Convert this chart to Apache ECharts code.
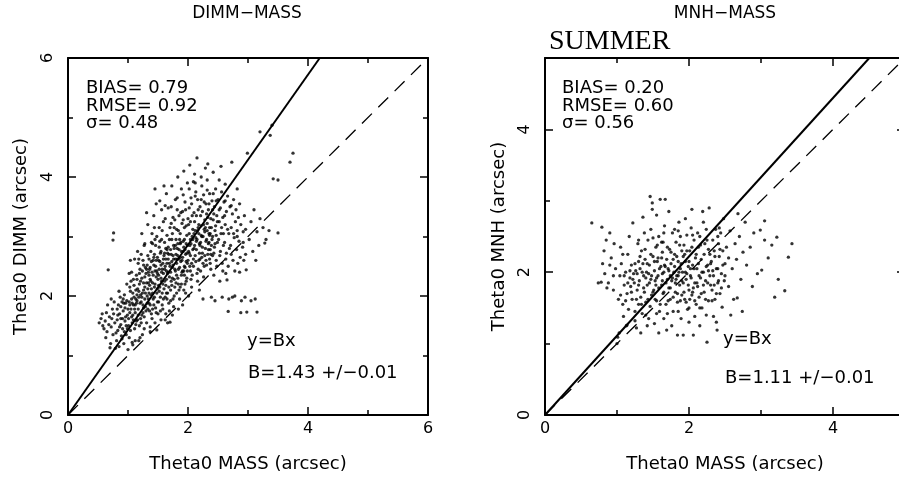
<!DOCTYPE html>
<html><head><meta charset="utf-8">
<script src="https://cdn.jsdelivr.net/npm/echarts@6/dist/echarts.min.js"></script>
<style>html,body{margin:0;padding:0;background:#fff}#c{width:899px;height:488px}</style>
</head><body><div id="c"></div><script>
// ---------- DATA ----------
const panelTitles = ['DIMM−MASS', 'MNH−MASS'];
const seasonLabel = 'SUMMER';
const xAxisNames = ['Theta0 MASS (arcsec)', 'Theta0 MASS (arcsec)'];
const yAxisNames = ['Theta0 DIMM (arcsec)', 'Theta0 MNH (arcsec)'];
const axisMax = [6, 5];
const tickInterval = 2;
const statsDimm = ['BIAS= 0.79', 'RMSE= 0.92', 'σ= 0.48'];
const statsMnh = ['BIAS= 0.20', 'RMSE= 0.60', 'σ= 0.56'];
const fitLabel = 'y=Bx';
const slopeDimm = 1.43, slopeMnh = 1.11;
const slopeTexts = ['B=1.43 +/−0.01', 'B=1.11 +/−0.01'];

const dimmPoints = [
[0.52,1.55],[0.55,1.62],[0.58,1.5],[0.57,1.7],[0.6,1.45],
[0.62,1.58],[0.64,1.72],[0.65,1.4],[0.66,1.85],[0.68,1.52],[0.67,2.44],[0.69,1.65],[0.63,1.3],
[0.71,1.2],[0.72,1.48],[0.73,1.62],[0.74,1.78],[0.75,2.94],[0.76,3.06],[0.75,1.35],[0.77,1.9],[0.78,1.55],[0.79,1.12],[0.76,1.7],[0.72,1.95],[0.7,1.13],
[0.81,1.25],[0.82,1.6],[0.83,1.42],[0.84,1.85],[0.85,1.15],[0.86,1.7],[0.87,1.98],[0.88,1.52],[0.89,1.33],[0.82,1.78],[0.85,2.08],[0.88,1.62],[0.9,1.9],
[0.91,1.45],[0.92,1.75],[0.93,1.2],[0.94,2.02],[0.95,1.58],[0.96,1.88],[0.97,1.35],[0.98,2.2],[0.99,1.68],[0.92,1.95],[0.95,1.8],[0.97,1.5],[1.0,1.1],
[1.01,1.62],[1.02,1.9],[1.03,2.15],[1.04,1.42],[1.05,1.78],[1.06,2.4],[1.07,1.55],[1.08,2.05],[1.09,1.85],[1.02,1.3],[1.05,2.25],[1.08,1.68],[1.1,1.98],[1.04,2.6],[1.07,1.22],[1.08,1.18],
[1.11,1.45],[1.12,1.72],[1.13,2.1],[1.14,2.35],[1.15,1.92],[1.16,1.6],[1.17,2.55],[1.18,1.25],[1.19,2.2],[1.12,1.85],[1.15,2.02],[1.17,1.78],[1.2,2.45],[1.13,1.52],[1.18,1.98],[1.16,2.75],[1.12,1.25],[1.2,1.3],
[1.21,1.62],[1.22,1.9],[1.23,2.3],[1.24,2.05],[1.25,2.6],[1.26,1.8],[1.27,1.45],[1.28,2.15],[1.29,2.48],[1.22,2.7],[1.24,1.35],[1.26,2.22],[1.28,1.95],[1.3,2.38],[1.23,3.05],[1.27,2.85],[1.25,1.72],
[1.31,1.55],[1.32,1.88],[1.33,2.12],[1.34,2.4],[1.35,2.62],[1.36,1.75],[1.37,2.28],[1.38,2.02],[1.39,2.9],[1.32,2.52],[1.34,1.95],[1.36,2.18],[1.38,2.75],[1.4,1.62],[1.33,3.2],[1.37,1.4],[1.35,2.35],[1.39,2.58],[1.31,3.4],[1.37,1.48],
[1.41,2.05],[1.42,2.35],[1.43,1.85],[1.44,2.7],[1.45,2.2],[1.46,2.5],[1.47,1.72],[1.48,3.0],[1.49,2.12],[1.42,2.6],[1.44,1.98],[1.46,2.85],[1.48,2.42],[1.5,2.28],[1.43,3.35],[1.47,3.55],[1.45,1.55],[1.41,2.88],[1.49,2.65],[1.44,3.15],[1.48,1.43],[1.45,3.8],
[1.51,1.9],[1.52,2.45],[1.53,2.15],[1.54,2.72],[1.55,2.3],[1.56,2.95],[1.57,2.05],[1.58,2.55],[1.59,3.25],[1.52,2.82],[1.54,1.75],[1.56,2.4],[1.58,2.2],[1.6,2.68],[1.53,3.6],[1.57,3.1],[1.55,1.6],[1.51,2.6],[1.59,1.95],[1.56,3.45],[1.6,3.85],
[1.61,2.25],[1.62,2.5],[1.63,2.8],[1.64,2.05],[1.65,3.02],[1.66,2.38],[1.67,2.62],[1.68,1.88],[1.69,2.95],[1.62,3.3],[1.64,2.42],[1.66,2.72],[1.68,2.15],[1.7,3.15],[1.63,1.7],[1.67,3.48],[1.65,2.55],[1.61,2.9],[1.69,2.32],[1.64,3.72],[1.66,1.55],[1.62,1.6],[1.7,1.56],
[1.71,2.4],[1.72,2.7],[1.73,2.18],[1.74,3.05],[1.75,2.52],[1.76,2.85],[1.77,2.0],[1.78,3.28],[1.79,2.62],[1.72,3.5],[1.74,2.3],[1.76,1.82],[1.78,2.45],[1.8,2.95],[1.73,3.85],[1.77,3.15],[1.75,2.68],[1.71,2.1],[1.79,3.62],[1.74,1.68],[1.8,2.22],
[1.81,2.55],[1.82,2.8],[1.83,2.3],[1.84,3.1],[1.85,2.62],[1.86,2.95],[1.87,2.15],[1.88,3.4],[1.89,2.75],[1.82,3.65],[1.84,2.45],[1.86,1.95],[1.88,2.58],[1.9,3.22],[1.83,4.0],[1.87,2.88],[1.85,3.35],[1.81,2.05],[1.89,3.8],[1.84,1.78],[1.9,2.4],
[1.91,2.65],[1.92,2.92],[1.93,2.42],[1.94,3.15],[1.95,2.78],[1.96,3.45],[1.97,2.25],[1.98,3.02],[1.99,2.55],[1.92,3.7],[1.94,2.5],[1.96,2.05],[1.98,2.72],[2.0,3.3],[1.93,4.1],[1.97,2.88],[1.95,3.58],[1.91,1.85],[1.99,3.9],[1.94,2.35],
[2.01,2.75],[2.02,3.05],[2.03,2.5],[2.04,3.25],[2.05,2.88],[2.06,3.55],[2.07,2.35],[2.08,3.12],[2.09,2.62],[2.02,3.8],[2.04,2.68],[2.06,2.15],[2.08,2.95],[2.1,3.4],[2.03,4.2],[2.07,3.0],[2.05,3.65],[2.01,2.0],[2.09,3.92],[2.04,2.42],[2.1,2.8],
[2.11,2.85],[2.12,3.1],[2.13,2.58],[2.14,3.35],[2.15,2.95],[2.16,3.62],[2.17,2.45],[2.18,3.2],[2.19,2.72],[2.12,3.9],[2.14,2.78],[2.16,2.25],[2.18,3.05],[2.2,3.5],[2.15,4.32],[2.17,3.15],[2.13,3.75],[2.19,2.1],[2.11,4.05],[2.2,2.62],
[2.21,2.9],[2.22,3.18],[2.23,2.65],[2.24,3.42],[2.25,3.0],[2.26,3.7],[2.27,2.5],[2.28,3.28],[2.29,2.8],[2.22,4.0],[2.24,2.72],[2.26,2.32],[2.28,3.08],[2.3,3.55],[2.23,3.85],[2.27,3.12],[2.25,1.95],[2.21,2.42],[2.29,4.15],[2.3,2.6],
[2.31,2.95],[2.32,3.22],[2.33,2.7],[2.34,3.45],[2.35,3.05],[2.36,3.72],[2.37,2.55],[2.38,3.3],[2.39,2.85],[2.32,3.95],[2.34,2.78],[2.36,3.15],[2.38,2.45],[2.4,3.6],[2.33,4.22],[2.37,3.05],[2.35,2.9],[2.31,3.38],[2.39,1.98],[2.36,2.62],
[2.41,3.0],[2.42,3.28],[2.43,2.72],[2.44,3.5],[2.45,3.1],[2.46,3.8],[2.47,2.6],[2.48,3.35],[2.49,2.9],[2.42,4.08],[2.44,2.82],[2.46,3.18],[2.48,2.5],[2.5,3.62],[2.43,2.35],[2.47,3.02],[2.45,1.92],[2.41,3.45],[2.49,3.25],
[2.51,2.95],[2.52,3.25],[2.53,2.68],[2.54,3.48],[2.55,3.05],[2.56,3.75],[2.57,2.55],[2.58,3.32],[2.59,2.85],[2.52,3.95],[2.54,2.75],[2.56,3.15],[2.58,2.42],[2.6,3.58],[2.53,2.25],[2.57,1.98],[2.55,4.18],[2.59,3.05],
[2.61,2.9],[2.62,3.2],[2.63,2.62],[2.64,3.42],[2.65,2.27],[2.66,3.68],[2.67,2.5],[2.68,3.05],[2.69,2.8],[2.62,3.88],[2.64,2.72],[2.66,3.12],[2.68,1.95],[2.7,3.5],[2.63,2.38],[2.67,1.74],[2.61,3.35],
[2.71,2.85],[2.72,3.15],[2.73,4.25],[2.74,3.38],[2.75,2.6],[2.76,3.62],[2.77,2.98],[2.78,2.42],[2.79,3.25],[2.72,2.7],[2.74,1.98],[2.76,3.05],[2.78,2.0],[2.8,3.45],
[2.81,2.78],[2.82,3.1],[2.83,2.55],[2.84,3.32],[2.85,2.92],[2.86,3.55],[2.87,2.65],[2.88,3.2],[2.89,1.92],[2.82,3.0],[2.86,2.4],[2.88,1.72],
[2.91,2.82],[2.92,3.08],[2.93,2.6],[2.94,3.35],[2.95,1.98],[2.96,3.12],[2.97,2.44],[2.98,1.73],[2.99,4.4],[2.92,2.9],[2.96,2.7],
[3.02,2.95],[3.05,3.25],[3.08,2.75],[3.1,3.45],[3.12,1.95],[3.15,1.73],[3.15,3.08],[3.18,2.85],[3.05,1.92],[3.2,3.3],[3.13,2.6],[3.2,4.76],
[3.28,2.89],[3.25,3.15],[3.3,2.95],[3.37,4.7],[3.4,4.87],[3.42,3.97],[3.5,3.95],[3.5,3.06],[3.7,4.25],[3.75,4.4],[3.35,3.1],
[1.03,1.72],[1.06,1.95],[1.09,2.28],[1.11,2.62],[1.14,1.88],[1.16,2.12],[1.19,2.38],[1.21,2.02],[1.23,1.68],[1.26,2.52],[1.29,1.82],[1.31,2.22],[1.33,2.68],[1.35,1.88],[1.37,2.48],[1.39,2.12],[1.41,1.78],[1.43,2.52],[1.45,2.95],[1.47,2.32],[1.49,1.9],[1.51,2.18],[1.53,2.92],[1.55,2.52],[1.57,1.85],[1.59,2.38],[1.61,2.72],[1.63,2.18],[1.65,1.95],[1.67,2.82],[1.69,2.55],[1.71,1.92],[1.73,2.58],[1.75,3.32],[1.77,2.28],[1.79,2.85],[1.81,3.12],[1.83,2.68],[1.85,2.1],[1.87,3.05],[1.89,2.35],[1.91,3.42],[1.93,2.82],[1.95,2.2],[1.97,3.18],[1.99,2.42],[2.01,3.2],[2.03,2.85],[2.05,2.28],[2.07,3.35],[2.09,2.5],[2.11,3.25],[2.13,2.98],[2.15,2.38],[2.17,3.45],[2.19,2.88],[2.21,3.35],[2.23,3.0],[2.25,2.55],[2.27,3.58],[2.29,3.15],[2.31,2.52],[2.33,3.32],[2.35,3.55],[2.37,2.78],[2.39,3.15],[2.41,2.68],[2.43,3.38],[2.45,2.88],[2.47,3.6],
[1.02,2.38],[1.18,2.62],[1.28,2.88],[1.4,3.05],[1.52,3.15],[1.62,3.52],[1.72,3.22],[1.82,3.45],[1.92,3.28],[2.02,3.48],[2.12,3.68],[2.22,3.62],[2.32,3.78],[2.42,3.72],[2.52,3.45],[2.62,3.6],[2.72,3.52],[2.82,3.8],
[0.8,1.38],[0.83,1.68],[0.86,1.48],[0.88,1.82],[0.9,1.28],[0.91,1.62],[0.93,1.88],[0.94,1.4],[0.96,1.65],[0.98,1.92],[0.99,1.45],[1.0,1.78],
[1.01,1.5],[1.03,1.85],[1.04,2.08],[1.06,1.65],[1.07,1.88],[1.09,1.6],[1.1,2.18],[1.11,1.78],[1.13,1.95],[1.14,1.58],[1.15,2.28],[1.17,1.68],[1.18,2.08],[1.19,1.5],[1.2,1.88],
[1.21,2.25],[1.22,1.55],[1.23,1.98],[1.24,2.42],[1.25,1.85],[1.26,2.1],[1.27,1.65],[1.28,2.32],[1.29,2.05],[1.3,1.75],[1.31,2.45],[1.32,2.0],[1.33,1.78],[1.34,2.22],[1.35,2.05],[1.36,2.45],[1.37,1.85],[1.38,2.25],[1.39,1.7],[1.4,2.4],
[1.41,2.22],[1.42,1.95],[1.43,2.65],[1.44,2.15],[1.45,2.42],[1.46,1.8],[1.47,2.6],[1.48,2.05],[1.49,2.38],[1.5,1.7],[1.51,2.35],[1.52,2.08],[1.53,2.58],[1.54,1.98],[1.55,2.75],[1.56,2.25],[1.57,2.45],[1.58,1.78],[1.59,2.62],[1.6,2.12],
[1.61,2.45],[1.62,1.98],[1.63,2.62],[1.64,2.28],[1.65,2.78],[1.66,2.05],[1.67,2.4],[1.68,2.7],[1.69,1.75],[1.7,2.5],[1.71,2.78],[1.72,2.25],[1.73,2.95],[1.74,2.48],[1.75,1.95],[1.76,2.62],[1.77,2.8],[1.78,2.15],[1.79,2.42],[1.8,2.7],
[1.81,2.35],[1.82,2.62],[1.83,2.88],[1.84,2.2],[1.85,2.78],[1.86,2.48],[1.87,2.65],[1.88,2.9],[1.89,2.2],[1.9,2.6],[1.91,2.42],[1.92,2.75],[1.93,2.1],[1.94,2.95],[1.95,2.48],[1.96,2.7],[1.97,2.58],[1.98,2.3],[1.99,2.85],[2.0,2.6],
[2.02,2.72],[2.04,2.95],[2.06,2.55],[2.08,2.78],[2.1,3.05],[2.12,2.68],[2.14,2.92],[2.16,3.1],[2.18,2.6],[2.2,2.85],[2.22,3.02],[2.24,2.82],[2.26,3.2],[2.28,2.68],[2.3,2.92],[2.32,3.1],[2.34,2.88],[2.36,3.02],[2.38,2.7],[2.4,2.95]
];

const mnhPoints = [
[0.65,2.69],[0.74,1.85],[0.79,2.63],[0.78,1.86],[0.82,2.3],[0.85,2.45],[0.88,1.85],[0.8,2.12],[0.86,1.78],[0.9,2.55],
[0.92,2.2],[0.95,1.75],[0.98,2.05],[1.0,1.0],[1.01,1.09],[1.02,1.62],[1.05,2.35],[1.04,1.95],[1.08,1.55],[1.06,2.12],[1.1,1.82],[0.96,2.4],[1.09,1.38],[1.03,1.15],
[1.12,2.0],[1.14,1.7],[1.15,2.25],[1.16,1.48],[1.18,1.92],[1.2,2.1],[1.21,1.62],[1.22,2.69],[1.24,1.85],[1.25,1.32],[1.26,2.02],[1.28,1.75],[1.29,2.4],[1.3,1.55],[1.13,1.25],[1.17,2.5],[1.23,1.98],[1.27,1.22],[1.19,1.8],[1.3,2.15],[1.14,1.26],
[1.31,1.88],[1.32,2.05],[1.33,1.65],[1.34,2.3],[1.35,1.42],[1.36,2.77],[1.37,1.95],[1.38,1.72],[1.39,2.18],[1.4,1.58],[1.41,2.0],[1.42,1.82],[1.43,2.45],[1.44,1.35],[1.45,2.1],[1.46,3.06],[1.47,1.9],[1.48,1.68],[1.49,2.97],[1.5,2.22],[1.33,1.15],[1.38,2.55],[1.44,1.98],[1.46,1.52],[1.36,2.12],[1.42,1.25],[1.49,2.88],[1.47,2.6],
[1.51,1.75],[1.52,2.02],[1.53,1.88],[1.54,2.35],[1.55,1.6],[1.56,2.15],[1.57,1.95],[1.58,2.5],[1.59,1.45],[1.6,3.02],[1.61,2.08],[1.62,1.82],[1.63,2.28],[1.64,1.7],[1.65,2.0],[1.66,2.65],[1.67,3.02],[1.68,1.55],[1.69,2.18],[1.7,1.9],[1.52,1.28],[1.55,2.8],[1.58,1.15],[1.62,2.42],[1.65,1.35],[1.69,1.19],[1.57,2.2],[1.63,1.98],[1.54,1.82],[1.66,2.1],
[1.71,2.05],[1.72,1.78],[1.73,2.32],[1.74,1.62],[1.75,2.12],[1.76,1.88],[1.77,2.55],[1.78,1.45],[1.79,2.0],[1.8,2.25],[1.81,1.72],[1.82,2.42],[1.83,1.95],[1.84,1.58],[1.85,2.15],[1.86,2.7],[1.87,1.82],[1.88,2.05],[1.89,1.35],[1.9,2.3],[1.72,2.85],[1.76,1.25],[1.8,2.6],[1.84,1.12],[1.88,2.5],[1.74,1.95],[1.78,2.18],[1.82,1.9],[1.86,2.0],[1.9,1.68],
[1.91,2.0],[1.92,1.85],[1.93,2.38],[1.94,1.62],[1.95,2.15],[1.96,1.9],[1.97,2.52],[1.98,1.48],[1.99,2.08],[2.0,1.75],[2.01,2.3],[2.02,1.95],[2.03,2.62],[2.04,1.68],[2.05,2.1],[2.06,1.12],[2.07,2.45],[2.08,1.85],[2.09,2.2],[2.1,1.55],[1.92,1.12],[1.95,2.75],[2.0,1.3],[2.04,2.88],[2.08,1.38],[1.97,1.98],[2.02,2.05],[1.94,2.25],[2.06,1.78],
[2.11,2.05],[2.12,1.8],[2.13,2.35],[2.14,1.65],[2.15,2.5],[2.16,1.92],[2.17,2.18],[2.18,1.5],[2.19,2.85],[2.2,2.0],[2.21,1.72],[2.22,2.4],[2.23,1.88],[2.24,2.6],[2.25,1.02],[2.26,2.1],[2.27,1.6],[2.28,2.9],[2.29,2.25],[2.3,1.82],[2.15,1.25],[2.2,2.7],[2.24,1.4],[2.12,2.55],[2.27,2.02],
[2.31,2.15],[2.32,1.75],[2.33,2.45],[2.34,1.95],[2.35,2.3],[2.36,1.62],[2.37,2.6],[2.38,2.05],[2.39,1.19],[2.4,1.85],[2.41,2.4],[2.42,2.22],[2.43,1.7],[2.44,2.55],[2.45,1.98],[2.46,1.51],[2.47,2.3],[2.48,2.75],[2.49,1.88],[2.5,2.12],[2.34,1.38],[2.42,2.62],[2.38,1.3],
[2.52,2.35],[2.55,1.8],[2.57,2.58],[2.6,2.05],[2.62,1.62],[2.64,2.4],[2.66,2.18],[2.67,1.64],[2.7,2.5],[2.72,1.9],[2.75,2.28],[2.78,2.7],[2.58,1.4],[2.68,2.82],[2.8,2.1],[2.55,2.2],[2.74,1.45],
[2.85,2.35],[2.9,2.55],[2.95,1.98],[2.99,2.59],[3.01,2.03],[3.05,2.45],[3.1,2.2],[3.15,2.38],[3.19,1.65],[3.22,2.49],[3.24,1.9],[3.33,1.74],[3.38,2.21],[3.43,2.4],[3.05,2.72],[2.88,1.8],
[1.15,1.85],[1.18,2.02],[1.2,1.72],[1.22,1.9],[1.25,2.12],[1.27,1.62],[1.28,1.98],[1.3,1.82],[1.32,2.22],[1.34,1.55],[1.35,2.0],[1.37,1.78],[1.39,2.32],[1.4,1.92],[1.42,2.12],[1.43,1.62],[1.45,1.85],[1.47,2.25],[1.48,1.95],[1.5,1.72],
[1.52,2.15],[1.53,1.62],[1.55,1.92],[1.56,2.38],[1.58,1.78],[1.59,2.05],[1.6,1.55],[1.62,2.2],[1.63,1.88],[1.64,2.42],[1.65,1.72],[1.67,2.08],[1.68,1.85],[1.7,2.35],[1.71,1.6],[1.72,2.02],[1.74,1.78],[1.75,2.28],[1.77,1.92],[1.78,1.65],
[1.8,2.08],[1.81,1.85],[1.83,2.22],[1.84,1.7],[1.85,1.95],[1.87,2.38],[1.88,1.6],[1.89,2.12],[1.9,1.88],[1.92,2.22],[1.93,1.72],[1.95,2.0],[1.96,1.58],[1.97,2.3],[1.99,1.82],[2.0,2.15],[2.01,1.62],[2.03,1.92],[2.04,2.35],[2.05,1.72],
[2.07,2.05],[2.08,1.6],[2.1,2.25],[2.11,1.85],[2.13,2.12],[2.14,1.95],[2.16,2.38],[2.17,1.7],[2.18,2.0],[2.2,1.82],[2.21,2.25],[2.23,1.62],[2.24,2.08],[2.26,1.85],[2.27,2.32],[2.29,1.95],[2.3,2.12],[2.32,1.6],[2.33,2.02],[2.35,1.82],
[2.36,2.22],[2.38,1.7],[2.4,2.05],[2.41,1.88],[2.43,2.32],[2.45,1.78],[2.47,2.1],[2.5,1.95],[1.25,1.45],[1.4,1.4],[1.55,1.42],[1.7,1.42],[1.85,1.45],[2.0,1.5],[2.15,1.5],[1.3,2.45],[1.5,2.48],[1.65,2.55],[1.85,2.58],[2.05,2.52],[2.25,2.45],[2.4,2.5],
[1.05,1.68],[1.08,2.25],[1.1,1.95],[1.12,1.6],[0.95,1.95],[0.9,2.1],[0.83,1.98]
];

// ---------- CHART ----------
const FONT = '"DejaVu Sans", "Liberation Sans", sans-serif';
const BLACK = '#000';

function makeAxis(gridIndex, max, position, isY, showLabel, name, nameGap) {
  const a = {
    type: 'value', gridIndex, position, min: 0, max, interval: tickInterval,
    axisLine: { show: true, onZero: false, lineStyle: { color: BLACK, width: 2 } },
    axisTick: { show: true, inside: true, length: 8, lineStyle: { color: BLACK, width: 1.5 } },
    minorTick: { show: true, splitNumber: 2, length: 5, lineStyle: { color: BLACK, width: 1.5 } },
    splitLine: { show: false },
    minorSplitLine: { show: false },
    axisLabel: { show: showLabel, color: BLACK, fontFamily: FONT, fontSize: 16, margin: isY ? 12 : 6,
                 rotate: isY ? 90 : 0, showMinLabel: true, showMaxLabel: max % tickInterval === 0 },
    silent: true
  };
  if (name) {
    a.name = name; a.nameLocation = 'middle'; a.nameGap = nameGap;
    a.nameTextStyle = { color: BLACK, fontFamily: FONT, fontSize: 18 };
  }
  return a;
}

function fitLine(slope, max) { return [[0, 0], [max / slope, max]]; }
function idLine(max) { return [[0, 0], [max, max]]; }

const text = (t, x, y, opts) => Object.assign({
  type: 'text', x, y, silent: true,
  style: Object.assign({ text: t, fill: BLACK, font: '18px ' + FONT, align: 'left', verticalAlign: 'middle' }, opts || {})
});

const graphics = [
  text(panelTitles[0], 247, 14, { align: 'center', font: '17px ' + FONT }),
  text(panelTitles[1], 725, 14, { align: 'center', font: '17px ' + FONT }),
  text(seasonLabel, 549, 42, { font: '28px "Liberation Serif", "Times New Roman", serif' }),
  text(statsDimm[0], 86, 88), text(statsDimm[1], 86, 106), text(statsDimm[2], 86, 123),
  text(statsMnh[0], 562, 88), text(statsMnh[1], 562, 106), text(statsMnh[2], 562, 123),
  text(fitLabel, 247, 341), text(slopeTexts[0], 248, 373),
  text(fitLabel, 723, 339), text(slopeTexts[1], 725, 378)
];

const chart = echarts.init(document.getElementById('c'), null, { renderer: 'canvas' });
chart.setOption({
  animation: false,
  backgroundColor: '#fff',
  grid: [
    { left: 68, top: 58, width: 360, height: 357, containLabel: false, outerBoundsMode: 'none' },
    { left: 545, top: 58, width: 360, height: 357, containLabel: false, outerBoundsMode: 'none' }
  ],
  xAxis: [
    makeAxis(0, axisMax[0], 'bottom', false, true, xAxisNames[0], 40),
    makeAxis(0, axisMax[0], 'top', false, false),
    makeAxis(1, axisMax[1], 'bottom', false, true, xAxisNames[1], 40),
    makeAxis(1, axisMax[1], 'top', false, false)
  ],
  yAxis: [
    makeAxis(0, axisMax[0], 'left', true, true, yAxisNames[0], 38),
    makeAxis(0, axisMax[0], 'right', true, false),
    makeAxis(1, axisMax[1], 'left', true, true, yAxisNames[1], 37),
    makeAxis(1, axisMax[1], 'right', true, false)
  ],
  graphic: graphics,
  series: [
    { type: 'scatter', xAxisIndex: 0, yAxisIndex: 0, data: dimmPoints, symbol: 'circle', symbolSize: 3.3,
      itemStyle: { color: BLACK }, silent: true },
    { type: 'line', xAxisIndex: 0, yAxisIndex: 0, data: fitLine(slopeDimm, axisMax[0]), showSymbol: false, symbol: 'none',
      lineStyle: { color: BLACK, width: 2 }, silent: true },
    { type: 'line', xAxisIndex: 0, yAxisIndex: 0, data: idLine(axisMax[0]), showSymbol: false, symbol: 'none',
      lineStyle: { color: BLACK, width: 1.3, type: [14, 9] }, silent: true },
    { type: 'scatter', xAxisIndex: 2, yAxisIndex: 2, data: mnhPoints, symbol: 'circle', symbolSize: 3.3,
      itemStyle: { color: BLACK }, silent: true },
    { type: 'line', xAxisIndex: 2, yAxisIndex: 2, data: fitLine(slopeMnh, axisMax[1]), showSymbol: false, symbol: 'none',
      lineStyle: { color: BLACK, width: 2 }, silent: true },
    { type: 'line', xAxisIndex: 2, yAxisIndex: 2, data: idLine(axisMax[1]), showSymbol: false, symbol: 'none',
      lineStyle: { color: BLACK, width: 1.3, type: [14, 9] }, silent: true }
  ]
});
</script></body></html>
